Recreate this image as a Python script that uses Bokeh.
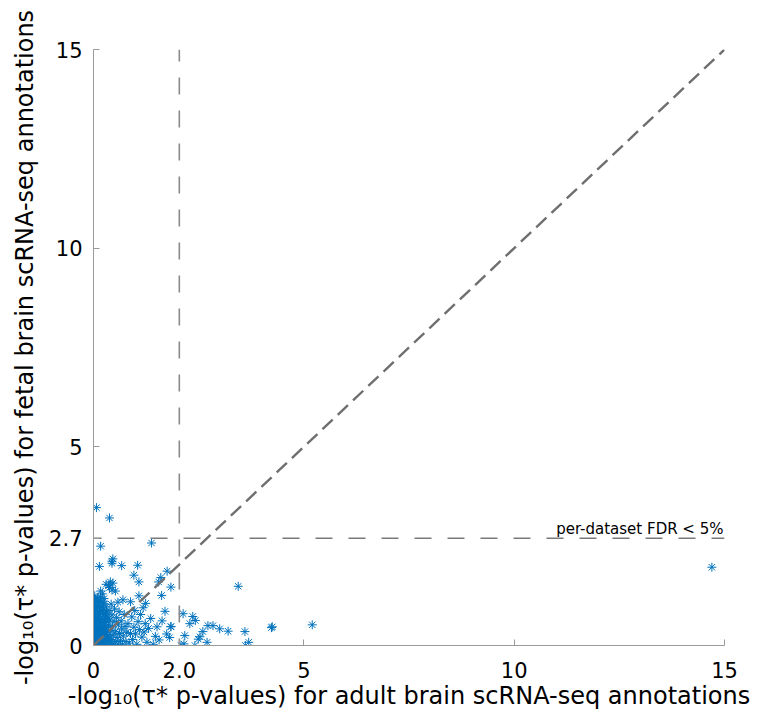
from bokeh.plotting import figure
from bokeh.models import Range1d, FixedTicker, Label
from bokeh.embed import file_html
from bokeh.resources import INLINE

# ---- data: -log10(tau* p-values), adult (x) vs fetal (y) ----
adult_x = [
    # dense cluster near origin
    0.01, 0.01, 0.01, 0.01, 0.01, 0.02, 0.02, 0.02, 0.02, 0.02,
    0.04, 0.04, 0.04, 0.04, 0.04, 0.06, 0.06, 0.06, 0.06,
    0.08, 0.08, 0.08, 0.08, 0.10, 0.10, 0.10, 0.10,
    0.12, 0.12, 0.12, 0.12, 0.14, 0.14, 0.14, 0.14,
    0.16, 0.16, 0.16, 0.18, 0.18, 0.18, 0.20, 0.20, 0.20, 0.20,
    0.22, 0.22, 0.24, 0.24, 0.24, 0.26, 0.26, 0.26, 0.28, 0.28,
    0.30, 0.30, 0.30, 0.32, 0.32, 0.34, 0.34,
    0.03, 0.05, 0.07, 0.09, 0.11, 0.13, 0.15, 0.17, 0.19, 0.21,
    0.23, 0.25, 0.27, 0.29, 0.31, 0.33, 0.05, 0.09, 0.13, 0.17,
    0.21, 0.25, 0.29, 0.11, 0.19, 0.27, 0.07, 0.15, 0.23, 0.31,
    0.36, 0.36, 0.37, 0.38, 0.39, 0.40, 0.41, 0.42, 0.43, 0.44,
    0.45, 0.47, 0.48, 0.49, 0.50, 0.52, 0.53, 0.55, 0.56, 0.58,
    0.59, 0.61, 0.62, 0.64, 0.66, 0.67, 0.69, 0.71, 0.73, 0.75,
    0.77, 0.79,
    0.82, 0.85, 0.88, 0.91, 0.93, 0.96, 0.98, 1.00, 1.03, 1.06,
    1.09, 1.12, 1.15, 1.18, 1.20, 1.23, 1.27, 1.31, 1.36, 1.42,
    1.47, 1.51, 1.56, 1.63, 1.70, 1.74, 1.81, 1.84,
    # upper points
    0.07, 0.38, 0.17, 1.38, 0.14, 0.44, 0.46, 0.44, 0.67, 1.05,
    0.96, 1.08, 1.75, 1.60, 1.55, 1.84, 1.62, 1.08, 1.24, 0.36,
    0.46, 0.30, 0.40, 0.44, 0.52, 0.17, 0.21, 0.58, 0.38, 0.03,
    0.10, 0.25, 0.70, 0.88, 3.44,
    # right of the adult threshold
    2.13, 2.36, 2.42, 2.29, 2.72, 2.84, 3.00, 3.20, 3.60, 4.23,
    4.25, 5.20, 1.84, 2.17, 2.15, 2.08, 2.41, 2.60, 2.53, 2.49,
    2.70, 3.61, 3.69, 14.70,
]
fetal_y = [
    0.04, 0.22, 0.47, 0.71, 0.93, 0.12, 0.35, 0.58, 0.82, 1.05,
    0.02, 0.27, 0.50, 0.76, 1.13, 0.09, 0.40, 0.63, 0.88,
    0.18, 0.31, 0.55, 0.99, 0.03, 0.44, 0.69, 0.84,
    0.14, 0.37, 0.60, 1.08, 0.06, 0.25, 0.78, 0.95,
    0.19, 0.48, 0.66, 0.02, 0.33, 0.87, 0.11, 0.42, 0.57, 1.01,
    0.24, 0.74, 0.05, 0.36, 0.90, 0.16, 0.52, 0.65, 0.28, 0.81,
    0.02, 0.45, 0.97, 0.13, 0.60, 0.34, 0.72,
    1.18, 0.15, 0.52, 0.95, 0.29, 0.72, 1.12, 0.38, 0.61, 0.88,
    0.10, 1.05, 0.46, 0.68, 0.84, 0.22, 0.66, 1.15, 0.44, 1.22,
    0.31, 0.79, 0.58, 0.97, 0.05, 0.40, 0.35, 0.02, 1.10, 0.27,
    0.08, 0.50, 0.88, 0.22, 0.64, 0.03, 0.38, 1.04, 0.15, 0.77,
    0.47, 0.27, 0.02, 0.60, 0.92, 0.10, 0.36, 0.70, 0.20, 0.04,
    0.52, 0.85, 0.30, 0.12, 0.62, 0.42, 0.03, 0.24, 0.78, 0.48,
    0.10, 0.33,
    0.55, 0.06, 0.30, 0.72, 0.15, 0.46, 0.88, 0.29, 0.03, 0.60,
    0.40, 0.78, 0.21, 0.95, 0.34, 0.55, 0.08, 0.43, 0.68, 0.03,
    0.23, 0.47, 0.14, 0.62, 0.86, 0.29, 0.20, 0.47,
    3.47, 3.21, 2.50, 2.58, 1.99, 2.07, 2.18, 2.12, 2.01, 2.02,
    1.77, 1.60, 1.87, 1.71, 1.60, 1.47, 1.26, 1.25, 1.06, 1.51,
    1.57, 1.54, 1.60, 1.40, 1.37, 1.37, 1.30, 1.09, 1.46, 1.25,
    1.20, 1.18, 1.15, 1.10, 1.49,
    0.80, 0.73, 0.63, 0.55, 0.50, 0.50, 0.42, 0.36, 0.35, 0.45,
    0.47, 0.52, 0.48, 0.25, 0.04, 0.00, 0.00, 0.35, 0.22, 0.16,
    0.08, 0.00, 0.08, 1.97,
]

x_ticks = [0, 2.04, 5, 10, 15]
x_tick_labels = ["0", "2.0", "5", "10", "15"]
y_ticks = [0, 2.7, 5, 10, 15]
y_tick_labels = ["0", "2.7", "5", "10", "15"]
x_threshold = 2.04
y_threshold = 2.7
axis_min = 0
axis_max = 15
fdr_text = "per-dataset FDR < 5%"
x_title = "-log₁₀(τ* p-values) for adult brain scRNA-seq annotations"
y_title = "-log₁₀(τ* p-values) for fetal brain scRNA-seq annotations"

FONT = "DejaVu Sans"
MARKER_COLOR = "#0072BD"

p = figure(width=750, height=715,
           x_range=Range1d(axis_min, axis_max), y_range=Range1d(axis_min, axis_max),
           output_backend="svg", toolbar_location=None,
           min_border_left=93, min_border_right=26, min_border_top=49, min_border_bottom=70)
p.xgrid.visible = False
p.ygrid.visible = False
p.outline_line_color = None
p.background_fill_color = "white"
p.border_fill_color = "white"

for ax, ticks, labels in ((p.xaxis[0], x_ticks, x_tick_labels), (p.yaxis[0], y_ticks, y_tick_labels)):
    ax.ticker = FixedTicker(ticks=ticks)
    ax.major_label_overrides = {t: l for t, l in zip(ticks, labels)}
    ax.minor_tick_line_color = None
    ax.major_tick_in = 6
    ax.major_tick_out = 0
    ax.axis_line_color = "#9a9a9a"
    ax.major_tick_line_color = "#9a9a9a"
    ax.axis_line_width = 1
    ax.major_label_text_font = FONT
    ax.major_label_text_font_size = "21px"
    ax.major_label_text_color = "black"
    ax.axis_label_text_font = FONT
    ax.axis_label_text_font_size = "24px"
    ax.axis_label_text_font_style = "normal"
    ax.axis_label_text_color = "black"

p.xaxis.major_label_standoff = 16
p.yaxis.major_label_standoff = 11
p.xaxis.axis_label = x_title
p.yaxis.axis_label = y_title
p.xaxis.axis_label_standoff = 1
p.yaxis.axis_label_standoff = 7

# scatter
p.scatter(adult_x, fetal_y, marker="asterisk", size=9,
          line_color=MARKER_COLOR, line_width=1)

# reference lines
p.line([axis_min, axis_max], [axis_min, axis_max], line_color="#6f6f6f",
       line_width=2.4, line_dash="14 7")
p.line([axis_min, axis_max], [y_threshold, y_threshold], line_color="#7a7a7a",
       line_width=1.6, line_dash="17 16", line_dash_offset=9)
p.line([x_threshold, x_threshold], [axis_min, axis_max], line_color="#8a8a8a",
       line_width=1.6, line_dash="17 16", line_dash_offset=10)

p.add_layout(Label(x=axis_max, y=y_threshold, x_offset=-1, y_offset=9, text=fdr_text,
                   text_font=FONT, text_font_size="15px", text_align="right",
                   text_baseline="alphabetic", text_color="black"))

open("out.html", "w").write(file_html(p, INLINE))
